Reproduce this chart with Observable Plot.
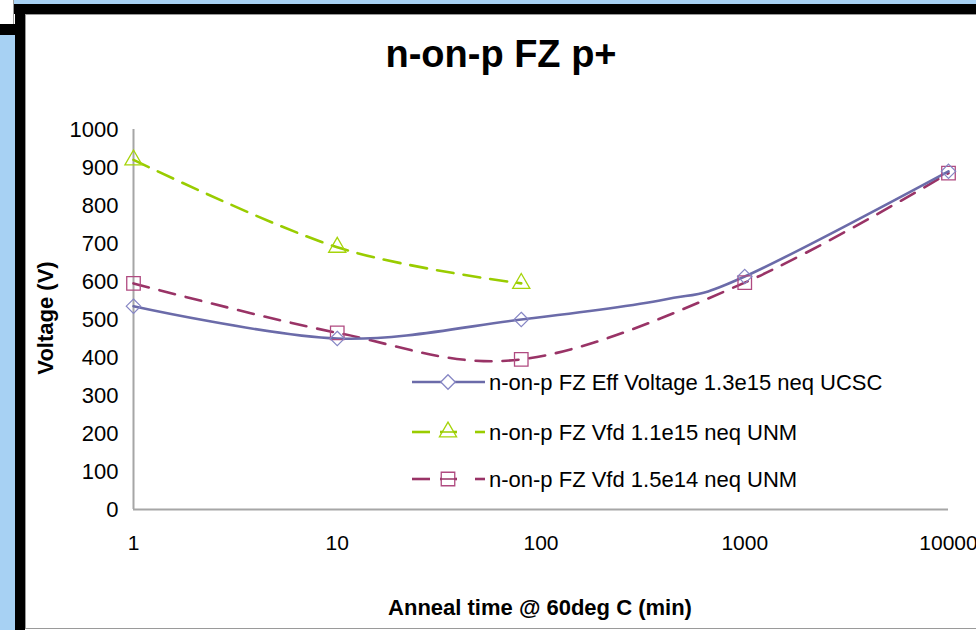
<!DOCTYPE html>
<html><head><meta charset="utf-8">
<script src="https://cdn.jsdelivr.net/npm/d3@7"></script>
<script src="https://cdn.jsdelivr.net/npm/@observablehq/plot@0.6"></script>
<style>
body{margin:0;background:#fff;}
#page{position:relative;width:976px;height:630px;overflow:hidden;background:#fff;font-family:"Liberation Sans",Arial,sans-serif;}
.blk{position:absolute;}
</style></head>
<body>
<div id="page">
  <div class="blk" style="left:14px;top:0;width:962px;height:4px;background:#a7d1f3"></div>
  <div class="blk" style="left:14px;top:4px;width:962px;height:10px;background:#000"></div>
  <div class="blk" style="left:0;top:24px;width:15px;height:11px;background:#000"></div>
  <div class="blk" style="left:15px;top:4px;width:10px;height:626px;background:#000"></div>
  <div class="blk" style="left:0;top:35px;width:15px;height:595px;background:#a7d1f3"></div>
  <div class="blk" style="left:13px;top:0;width:1px;height:24px;background:#9a9a9a"></div>
  <div class="blk" style="left:25px;top:14px;width:951px;height:1px;background:#9a9a9a"></div>
  <div class="blk" style="left:25px;top:14px;width:1px;height:615px;background:#9a9a9a"></div>
  <div class="blk" style="left:25px;top:628px;width:951px;height:1px;background:#9a9a9a"></div>
  <div id="chart" class="blk" style="left:25px;top:14px;"></div>
  <svg id="overlay" class="blk" style="left:0;top:0;pointer-events:none" width="976" height="630"></svg>
</div>
<script>
// ---- data ----
const title = "n-on-p FZ p+";
const xLabel = "Anneal time @ 60deg C (min)";
const yLabel = "Voltage (V)";
const xTicks = [1, 10, 100, 1000, 10000];
const yTicks = [0, 100, 200, 300, 400, 500, 600, 700, 800, 900, 1000];

const effName = "n-on-p FZ Eff Voltage 1.3e15 neq UCSC";
const effTime = [1, 10, 80, 400, 1000, 10000];
const effVolt = [535, 450, 500, 552, 613, 890];
const effMarked = [true, true, true, false, true, true];

const vfdAName = "n-on-p FZ Vfd 1.1e15 neq UNM";
const vfdATime = [1, 10, 80];
const vfdAVolt = [920, 690, 595];

const vfdBName = "n-on-p FZ Vfd 1.5e14 neq UNM";
const vfdBTime = [1, 10, 80, 1000, 10000];
const vfdBVolt = [595, 465, 395, 597, 885];

// ---- tables ----
const eff = effTime.map((t, i) => ({t, v: effVolt[i], m: effMarked[i]}));
const vfdA = vfdATime.map((t, i) => ({t, v: vfdAVolt[i]}));
const vfdB = vfdBTime.map((t, i) => ({t, v: vfdBVolt[i]}));

const FONT = '"Liberation Sans", Arial, sans-serif';
const styles = [
  {name: effName, line: "#6b6ba9", mark: "#8686c4", dash: null, symbol: "diamond2", r: 6.5},
  {name: vfdAName, line: "#99cc00", mark: "#a6d40a", dash: "17,10", symbol: "triangle2", r: 8.2},
  {name: vfdBName, line: "#993366", mark: "#b04a80", dash: "16,11", symbol: "square2", r: 8.6}
];

const chart = Plot.plot({
  width: 951, height: 614,
  marginLeft: 108, marginRight: 28, marginTop: 115, marginBottom: 119,
  style: {background: "transparent", fontFamily: FONT, color: "#000"},
  x: {type: "log", domain: [1, 10000]},
  y: {domain: [0, 1000]},
  marks: [
    Plot.axisY({ticks: yTicks, tickSize: 0, tickPadding: 15, fontSize: 22, label: null, tickFormat: d => String(d)}),
    Plot.axisX({ticks: xTicks, tickSize: 0, tickPadding: 26, fontSize: 21, label: null, tickFormat: d => String(d)}),
    Plot.ruleX([1], {y1: 0, y2: 1000, stroke: "#a6a6a6", strokeWidth: 2}),
    Plot.ruleY([0], {x1: 1, x2: 10000, stroke: "#a6a6a6", strokeWidth: 2}),
    Plot.line(vfdA, {x: "t", y: "v", stroke: styles[1].line, strokeWidth: 2.6, strokeDasharray: styles[1].dash, curve: "cardinal"}),
    Plot.line(vfdB, {x: "t", y: "v", stroke: styles[2].line, strokeWidth: 2.6, strokeDasharray: styles[2].dash, curve: "cardinal"}),
    Plot.line(eff, {x: "t", y: "v", stroke: styles[0].line, strokeWidth: 2.6, curve: "cardinal"}),
    Plot.dot(vfdA, {x: "t", y: "v", symbol: styles[1].symbol, r: styles[1].r, stroke: styles[1].mark, strokeWidth: 1.3, fill: "none"}),
    Plot.dot(vfdB, {x: "t", y: "v", symbol: styles[2].symbol, r: styles[2].r, stroke: styles[2].mark, strokeWidth: 1.3, fill: "none"}),
    Plot.dot(eff.filter(d => d.m), {x: "t", y: "v", symbol: styles[0].symbol, r: styles[0].r, stroke: styles[0].mark, strokeWidth: 1.2, fill: "none"})
  ]
});
document.getElementById("chart").appendChild(chart);

// ---- overlay: title, axis titles, legend ----
const ov = d3.select("#overlay");
ov.append("text").attr("x", 501).attr("y", 67).attr("text-anchor", "middle")
  .attr("font-family", FONT).attr("font-weight", "bold").attr("font-size", 38).text(title);
ov.append("text").attr("x", 540).attr("y", 615).attr("text-anchor", "middle")
  .attr("font-family", FONT).attr("font-weight", "bold").attr("font-size", 22).text(xLabel);
ov.append("text").attr("transform", "translate(53,318) rotate(-90)").attr("text-anchor", "middle")
  .attr("font-family", FONT).attr("font-weight", "bold").attr("font-size", 22).text(yLabel);

const legendY = [382, 432, 479];
styles.forEach((s, i) => {
  const g = ov.append("g").attr("transform", `translate(0,${legendY[i]})`);
  if (s.dash) {
    g.append("line").attr("x1", 412).attr("x2", 430).attr("stroke", s.line).attr("stroke-width", 2.6);
    g.append("line").attr("x1", 475).attr("x2", 485).attr("stroke", s.line).attr("stroke-width", 2.6);
    g.append("line").attr("x1", 440).attr("x2", 457).attr("stroke", s.line).attr("stroke-width", 2.6);
  } else {
    g.append("line").attr("x1", 412).attr("x2", 485).attr("stroke", s.line).attr("stroke-width", 2.6);
  }
  const sym = {diamond2: d3.symbolDiamond2, triangle2: d3.symbolTriangle2, square2: d3.symbolSquare2}[s.symbol];
  g.append("path").attr("transform", "translate(448,0)")
    .attr("d", d3.symbol(sym, Math.PI * s.r * s.r)())
    .attr("fill", "#fff").attr("stroke", s.mark).attr("stroke-width", 1.3);
  if (s.dash) {
    g.append("line").attr("x1", 441).attr("x2", 455).attr("stroke", s.line).attr("stroke-width", 1.5);
  }
  g.append("text").attr("x", 489).attr("y", 0).attr("dy", "0.35em")
    .attr("font-family", FONT).attr("font-size", 22).text(s.name);
});
</script>
</body></html>
